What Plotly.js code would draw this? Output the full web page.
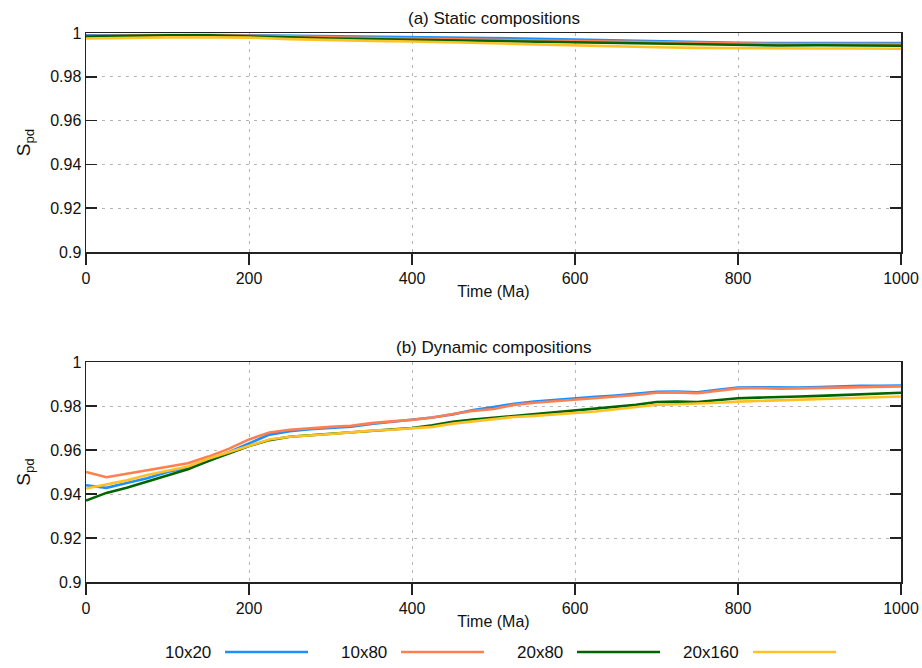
<!DOCTYPE html>
<html>
<head>
<meta charset="utf-8">
<script src="https://cdn.plot.ly/plotly-3.0.1.min.js"></script>
<style>
html,body{margin:0;padding:0;background:#fff;}
#chart{width:922px;height:668px;}
</style>
</head>
<body>
<div id="chart"></div>
<script>
// ---- data ----
const seriesNames = ["10x20", "10x80", "20x80", "20x160"];
const seriesColors = ["#1e8fff", "#ff7f50", "#006400", "#ffc125"];

// (a) Static compositions, time in Ma
const timeStatic = [0,50,100,150,200,250,300,350,400,450,500,550,600,650,700,750,800,850,900,950,1000];
const static10x20  = [0.9990,0.9991,0.9991,0.9991,0.9990,0.9988,0.9986,0.9984,0.9982,0.9979,0.9977,0.9974,0.9970,0.9966,0.9962,0.9958,0.9955,0.9954,0.9954,0.9954,0.9954];
const static10x80  = [0.9986,0.9989,0.9990,0.9990,0.9989,0.9985,0.9980,0.9977,0.9975,0.9973,0.9970,0.9967,0.9965,0.9962,0.9958,0.9954,0.9951,0.9950,0.9950,0.9950,0.9950];
const static20x80  = [0.9984,0.9988,0.9989,0.9989,0.9986,0.9980,0.9975,0.9972,0.9969,0.9966,0.9962,0.9958,0.9955,0.9953,0.9949,0.9946,0.9944,0.9943,0.9944,0.9943,0.9942];
const static20x160 = [0.9975,0.9979,0.9980,0.9980,0.9979,0.9972,0.9967,0.9964,0.9961,0.9958,0.9953,0.9948,0.9943,0.9940,0.9935,0.9932,0.9930,0.9930,0.9929,0.9929,0.9928];

// (b) Dynamic compositions
const timeDynamic = [0,25,50,75,100,125,150,175,200,225,250,275,300,325,350,375,400,425,450,475,500,525,550,575,600,625,650,675,700,725,750,775,800,825,850,875,900,925,950,975,1000];
const dyn10x20  = [0.9440,0.9428,0.9450,0.9472,0.9500,0.9520,0.9550,0.9590,0.9630,0.9670,0.9685,0.9695,0.9700,0.9706,0.9718,0.9728,0.9736,0.9748,0.9762,0.9782,0.9795,0.9810,0.9820,0.9828,0.9834,0.9842,0.9848,0.9855,0.9864,0.9866,0.9862,0.9874,0.9884,0.9885,0.9884,0.9884,0.9886,0.9890,0.9892,0.9892,0.9893];
const dyn10x80  = [0.9500,0.9476,0.9492,0.9508,0.9522,0.9540,0.9570,0.9605,0.9648,0.9680,0.9692,0.9700,0.9705,0.9710,0.9722,0.9730,0.9737,0.9748,0.9762,0.9778,0.9786,0.9805,0.9815,0.9822,0.9828,0.9838,0.9845,0.9850,0.9860,0.9862,0.9858,0.9870,0.9880,0.9882,0.9879,0.9880,0.9882,0.9886,0.9887,0.9888,0.9889];
const dyn20x80  = [0.9370,0.9405,0.9428,0.9456,0.9485,0.9512,0.9550,0.9585,0.9618,0.9645,0.9660,0.9667,0.9673,0.9680,0.9688,0.9693,0.9700,0.9712,0.9728,0.9738,0.9746,0.9757,0.9765,0.9772,0.9778,0.9787,0.9794,0.9805,0.9818,0.9820,0.9818,0.9825,0.9835,0.9838,0.9839,0.9843,0.9846,0.9850,0.9852,0.9855,0.9860];
const dyn20x160 = [0.9425,0.9445,0.9462,0.9486,0.9505,0.9525,0.9560,0.9590,0.9620,0.9648,0.9660,0.9668,0.9673,0.9680,0.9688,0.9692,0.9697,0.9705,0.9720,0.9730,0.9738,0.9750,0.9755,0.9762,0.9767,0.9775,0.9785,0.9795,0.9806,0.9808,0.9810,0.9815,0.9820,0.9823,0.9825,0.9828,0.9830,0.9835,0.9837,0.9838,0.9843];

const yTickVals = [0.9,0.92,0.94,0.96,0.98,1];
const yTickText = ["0.9","0.92","0.94","0.96","0.98","1"];
const xTickVals = [0,200,400,600,800,1000];
const xTickText = ["0","200","400","600","800","1000"];
const panelTitles = ["(a) Static compositions", "(b) Dynamic compositions"];
const xTitle = "Time (Ma)";
const yTitle = "S<sub>pd</sub>";

// ---- build ----
const W = 922, H = 668;
const FONT = "Liberation Sans, Arial, sans-serif";
const staticSeries = [static10x20, static10x80, static20x80, static20x160];
const dynSeries = [dyn10x20, dyn10x80, dyn20x80, dyn20x160];

const traces = [];
staticSeries.forEach((ys, i) => traces.push({
  x: timeStatic, y: ys, type: "scatter", mode: "lines", name: seriesNames[i],
  line: {color: seriesColors[i], width: 2.6}, xaxis: "x", yaxis: "y", showlegend: false
}));
dynSeries.forEach((ys, i) => traces.push({
  x: timeDynamic, y: ys, type: "scatter", mode: "lines", name: seriesNames[i],
  line: {color: seriesColors[i], width: 2.6}, xaxis: "x2", yaxis: "y2", showlegend: false
}));

// pixel layout
const plotL = 86, plotR = 901;
const topPanel = [33, 252], botPanel = [362, 582];
const fy = p => 1 - p / H;

function xax(anchor) {
  return {
    domain: [0, 1], anchor: anchor, range: [0, 1000],
    tickvals: xTickVals, ticktext: xTickText,
    ticks: "outside", ticklen: 11, tickwidth: 1.5, tickcolor: "#222",
    showline: true, linecolor: "#222", linewidth: 1.5, mirror: true,
    showgrid: true, gridcolor: "#b5b5b5", gridwidth: 1, griddash: "3px,5px",
    zeroline: false,
    tickfont: {family: FONT, size: 16, color: "#111"},
    title: {text: xTitle, font: {family: FONT, size: 16, color: "#111"}, standoff: 0}
  };
}
function yax(anchor, dom) {
  return {
    domain: dom, anchor: anchor, range: [0.9, 1.0],
    tickvals: yTickVals, ticktext: yTickText,
    ticks: "inside", ticklen: 11, tickwidth: 1.5, tickcolor: "#222",
    showline: true, linecolor: "#222", linewidth: 1.5, mirror: "ticks",
    showgrid: true, gridcolor: "#b5b5b5", gridwidth: 1, griddash: "3px,5px",
    zeroline: false,
    tickfont: {family: FONT, size: 16, color: "#111"},
    title: {text: yTitle, font: {family: FONT, size: 19, color: "#111"}, standoff: 14}
  };
}

const annotations = [
  {text: panelTitles[0], xref: "paper", yref: "paper", x: 0.5, y: fy(topPanel[0]), yanchor: "bottom", xanchor: "center", yshift: 3, showarrow: false, font: {family: FONT, size: 17, color: "#111"}},
  {text: panelTitles[1], xref: "paper", yref: "paper", x: 0.5, y: fy(botPanel[0]), yanchor: "bottom", xanchor: "center", yshift: 3, showarrow: false, font: {family: FONT, size: 17, color: "#111"}}
];
const shapes = [];
// gnuplot-style key: right-aligned text followed by a line sample
const legY = 652;
seriesNames.forEach((nm, i) => {
  const R = 213 + 176 * i;
  annotations.push({text: nm, xref: "paper", yref: "paper",
    x: (R - plotL) / (plotR - plotL), y: fy(legY), xanchor: "right", yanchor: "middle",
    showarrow: false, font: {family: FONT, size: 17, color: "#111"}});
  shapes.push({type: "line", xref: "paper", yref: "paper",
    x0: (R + 12 - plotL) / (plotR - plotL), x1: (R + 95 - plotL) / (plotR - plotL),
    y0: fy(legY), y1: fy(legY), line: {color: seriesColors[i], width: 2.6}});
});

const layout = {
  width: W, height: H,
  margin: {l: plotL, r: W - plotR, t: 0, b: 0},
  paper_bgcolor: "#fff", plot_bgcolor: "#fff",
  showlegend: false,
  xaxis: xax("y"),
  yaxis: yax("x", [fy(topPanel[1]), fy(topPanel[0])]),
  xaxis2: xax("y2"),
  yaxis2: yax("x2", [fy(botPanel[1]), fy(botPanel[0])]),
  annotations: annotations,
  shapes: shapes
};

Plotly.newPlot("chart", traces, layout, {displayModeBar: false, staticPlot: true});
</script>
</body>
</html>
